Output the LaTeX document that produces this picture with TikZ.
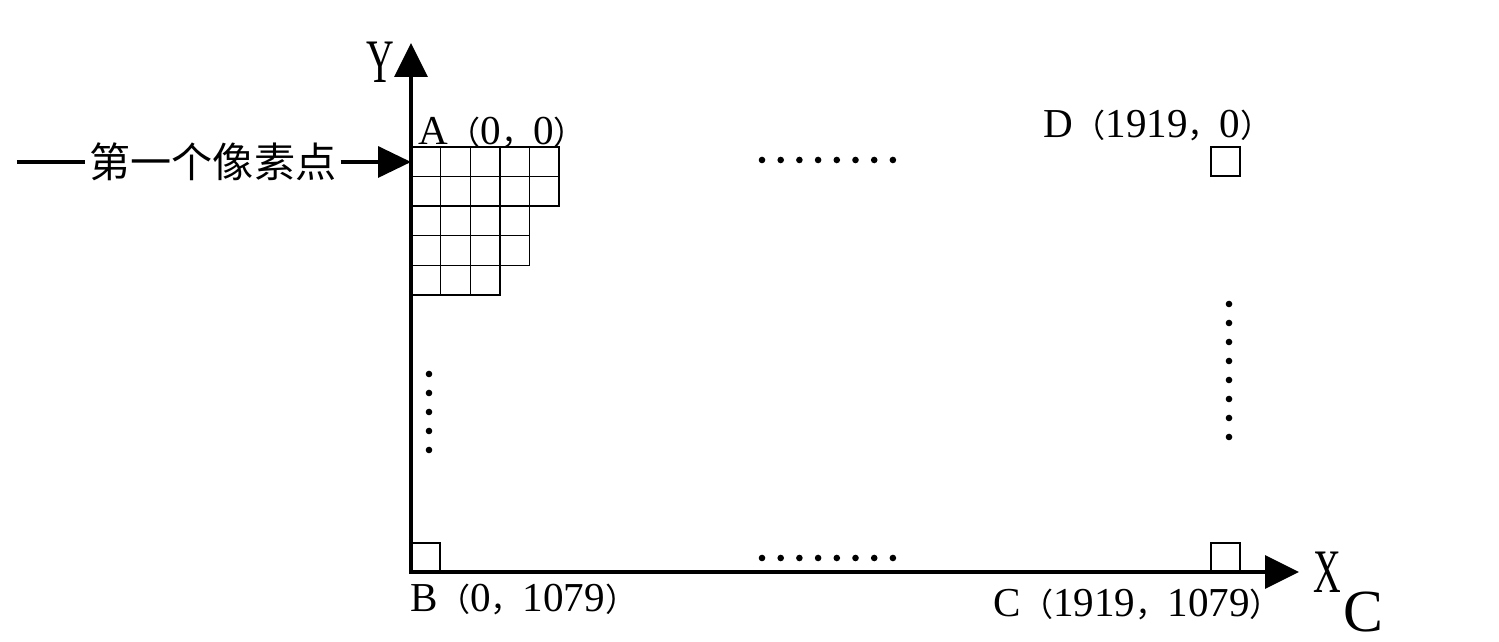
\documentclass[tikz,border=0pt]{standalone}
\usepackage{fontspec}
\setmainfont{Liberation Serif}
\newfontfamily\cjk[Scale=0.78]{Noto Sans CJK SC}
\newfontfamily\axisfont[FakeStretch=0.62]{Liberation Serif}
\newfontfamily\subfont{Liberation Serif}
\usetikzlibrary{arrows.meta}
\newcommand{\lpar}{{\cjk （}}
\newcommand{\rpar}{{\cjk ）}}
\newcommand{\fcomma}{{\cjk ，}}

\begin{document}
\begin{tikzpicture}[
  axis/.style={line width=1pt, line join=miter, >={Triangle[length=0.34cm,width=0.33cm]}},
  cell/.style={line width=0.4pt},
  pixbox/.style={line width=0.5pt},
  pdot/.style={fill=black},
  lab/.style={font=\fontsize{11.7}{14}\selectfont, inner sep=0pt, anchor=base west},
  big/.style={font=\fontsize{17.6}{20}\selectfont\axisfont, inner sep=0pt}]
\useasboundingbox (-4.11,-0.70) rectangle (10.88,5.72);
% axes
\coordinate (O) at (0,0);
\coordinate (ytip) at (0,5.29);
\coordinate (xtip) at (8.88,0);
\draw[axis, <->] (ytip) -- (O) -- (xtip);
\node[big] (ylab) at (-0.31,5.10) {Y};
\node[big] (xlab) at (9.16,0) {X};
\node[font=\fontsize{17}{20}\selectfont\subfont, inner sep=0pt] (xsub) at (9.52,-0.40) {C};
% first pixels
\foreach \n [count=\r] in {5,5,4,4,3}
  \foreach \c in {1,...,\n}
    \draw[cell] ({(\c-1)*0.296},{4.25-\r*0.296}) rectangle +(0.296,0.296);
% corner pixels
\draw[pixbox] (0,0) rectangle (0.29,0.29);
\draw[pixbox] (8.00,0) rectangle (8.29,0.29);
\draw[pixbox] (8.00,3.96) rectangle (8.29,4.25);
% dots
\foreach \i in {0,...,7} {
  \fill[pdot] ({3.51+\i*0.187},4.12) circle (0.033);
  \fill[pdot] ({3.51+\i*0.187},0.14) circle (0.033);
  \fill[pdot] (8.18,{2.68-\i*0.19}) circle (0.033);
}
\foreach \i in {0,...,4}
  \fill[pdot] (0.18,{1.98-\i*0.19}) circle (0.033);
% labels
\node[lab] (alab) at (0.07,4.27) {A\lpar 0\fcomma 0\rpar};
\node[lab] (dlab) at (6.32,4.34) {D\lpar 1919\fcomma 0\rpar};
\node[lab] (blab) at (-0.01,-0.40) {B\lpar 0\fcomma 1079\rpar};
\node[lab] (clab) at (5.82,-0.45) {C\lpar 1919\fcomma 1079\rpar};
% pointer
\node[font=\fontsize{15}{18}\selectfont\cjk, inner sep=1pt] (first) at (-1.98,4.10) {第一个像素点};
\coordinate (lead) at (-3.94,4.10);
\coordinate (pxA) at (0,4.10);
\draw[line width=1pt] (lead) -- (first);
\draw[line width=1pt, -{Triangle[length=0.33cm,width=0.31cm]}] (first) -- (pxA);
\end{tikzpicture}
\end{document}
